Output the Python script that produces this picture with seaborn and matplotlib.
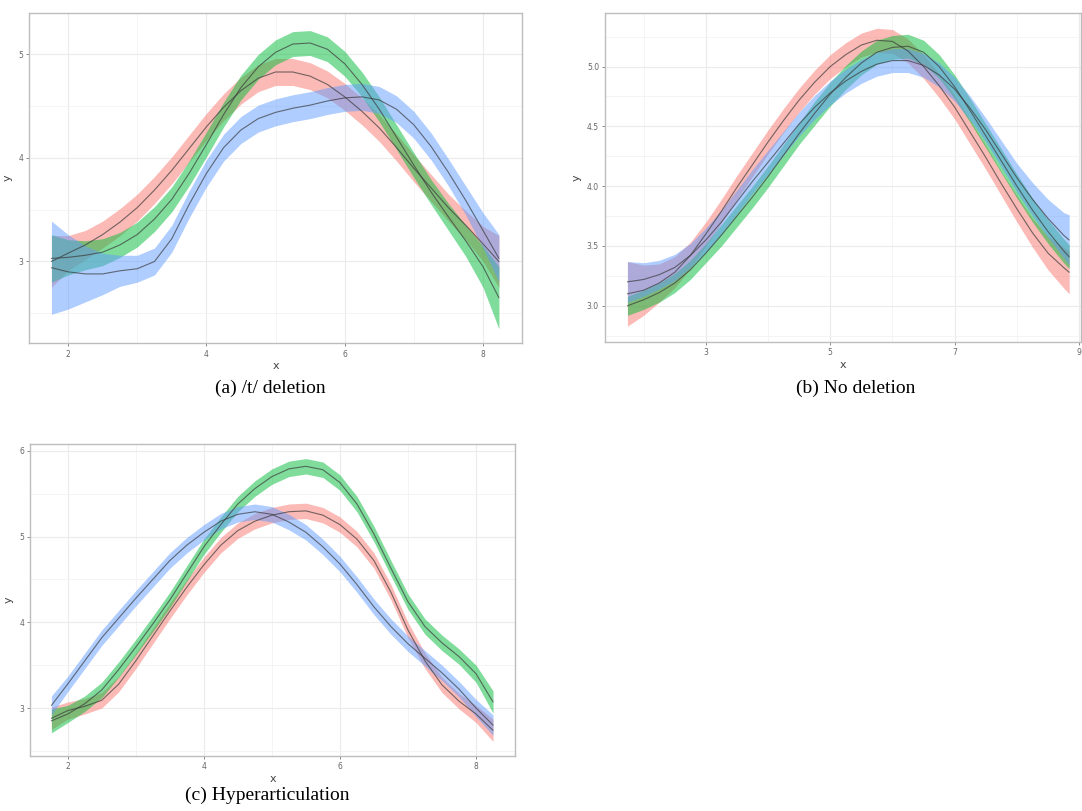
import numpy as np
import pandas as pd
import matplotlib
matplotlib.use("Agg")
import matplotlib.pyplot as plt
from matplotlib.ticker import MultipleLocator, FormatStrFormatter
import seaborn as sns

# ---------------- data ----------------
series_names = ["red", "green", "blue"]
series_colors = {"red": "#F8766D", "green": "#00BA38", "blue": "#619CFF"}

# (a) /t/ deletion
a_x = [1.76, 2.0, 2.25, 2.5, 2.75, 3.0, 3.25, 3.5, 3.75, 4.0, 4.25, 4.5, 4.75, 5.0,
       5.25, 5.5, 5.75, 6.0, 6.25, 6.5, 6.75, 7.0, 7.25, 7.5, 7.75, 8.0, 8.23]
a_red = [3.00, 3.08, 3.16, 3.26, 3.38, 3.52, 3.69, 3.88, 4.09, 4.30, 4.49, 4.65, 4.77, 4.83,
         4.83, 4.79, 4.71, 4.59, 4.45, 4.29, 4.10, 3.90, 3.71, 3.52, 3.35, 3.17, 3.00]
a_red_hw = [0.25, 0.17, 0.14, 0.13, 0.13, 0.13, 0.13, 0.13, 0.13, 0.13, 0.13, 0.13, 0.13, 0.13,
            0.13, 0.13, 0.13, 0.13, 0.13, 0.13, 0.13, 0.13, 0.13, 0.13, 0.14, 0.17, 0.25]
a_green = [3.03, 3.04, 3.06, 3.09, 3.16, 3.26, 3.41, 3.60, 3.85, 4.13, 4.42, 4.68, 4.88, 5.02,
           5.10, 5.11, 5.05, 4.91, 4.71, 4.47, 4.20, 3.93, 3.67, 3.43, 3.20, 2.95, 2.65]
a_green_hw = [0.23, 0.17, 0.14, 0.13, 0.12, 0.12, 0.12, 0.12, 0.12, 0.12, 0.12, 0.12, 0.12, 0.12,
              0.12, 0.12, 0.12, 0.12, 0.12, 0.12, 0.12, 0.12, 0.12, 0.13, 0.15, 0.20, 0.30]
a_blue = [2.94, 2.90, 2.88, 2.88, 2.91, 2.93, 3.00, 3.22, 3.55, 3.85, 4.10, 4.27, 4.38, 4.44,
          4.48, 4.51, 4.55, 4.58, 4.59, 4.56, 4.47, 4.32, 4.11, 3.86, 3.59, 3.30, 3.03]
a_blue_hw = [0.45, 0.36, 0.27, 0.20, 0.15, 0.13, 0.13, 0.13, 0.13, 0.13, 0.13, 0.13, 0.13, 0.13,
             0.13, 0.13, 0.13, 0.13, 0.13, 0.13, 0.13, 0.13, 0.13, 0.13, 0.14, 0.17, 0.23]

# (b) No deletion
b_x = [1.74, 2.0, 2.25, 2.5, 2.75, 3.0, 3.25, 3.5, 3.75, 4.0, 4.25, 4.5, 4.75, 5.0, 5.25,
       5.5, 5.75, 6.0, 6.25, 6.5, 6.75, 7.0, 7.25, 7.5, 7.75, 8.0, 8.25, 8.5, 8.75, 8.84]
b_red = [3.10, 3.13, 3.19, 3.28, 3.42, 3.60, 3.79, 3.99, 4.18, 4.37, 4.55, 4.72, 4.87, 5.00, 5.10,
         5.18, 5.22, 5.21, 5.13, 5.00, 4.84, 4.66, 4.45, 4.24, 4.02, 3.81, 3.61, 3.44, 3.32, 3.28]
b_red_hw = [0.27, 0.21, 0.16, 0.13, 0.11, 0.10, 0.10, 0.10, 0.10, 0.10, 0.10, 0.10, 0.10, 0.10, 0.10,
            0.10, 0.10, 0.10, 0.10, 0.10, 0.10, 0.10, 0.10, 0.10, 0.10, 0.11, 0.12, 0.14, 0.17, 0.18]
b_green = [3.00, 3.05, 3.11, 3.19, 3.30, 3.44, 3.59, 3.75, 3.91, 4.08, 4.26, 4.44, 4.61, 4.77, 4.91,
           5.03, 5.12, 5.16, 5.17, 5.12, 5.00, 4.83, 4.63, 4.42, 4.21, 4.00, 3.80, 3.62, 3.46, 3.41]
b_green_hw = [0.08, 0.08, 0.08, 0.08, 0.08, 0.08, 0.09, 0.09, 0.09, 0.09, 0.09, 0.09, 0.10, 0.10, 0.10,
              0.10, 0.10, 0.10, 0.10, 0.10, 0.10, 0.10, 0.10, 0.10, 0.10, 0.10, 0.10, 0.10, 0.10, 0.10]
b_blue = [3.20, 3.22, 3.26, 3.32, 3.42, 3.55, 3.70, 3.87, 4.04, 4.20, 4.36, 4.52, 4.66, 4.78, 4.88,
          4.96, 5.02, 5.05, 5.05, 5.01, 4.93, 4.81, 4.65, 4.47, 4.27, 4.07, 3.89, 3.73, 3.59, 3.55]
b_blue_hw = [0.17, 0.14, 0.12, 0.11, 0.10, 0.10, 0.10, 0.10, 0.10, 0.10, 0.10, 0.10, 0.10, 0.10, 0.10,
             0.10, 0.10, 0.10, 0.10, 0.10, 0.10, 0.10, 0.10, 0.10, 0.11, 0.12, 0.14, 0.16, 0.19, 0.21]

# (c) Hyperarticulation
c_x = [1.76, 2.0, 2.25, 2.5, 2.75, 3.0, 3.25, 3.5, 3.75, 4.0, 4.25, 4.5, 4.75, 5.0,
       5.25, 5.5, 5.75, 6.0, 6.25, 6.5, 6.75, 7.0, 7.25, 7.5, 7.75, 8.0, 8.25]
c_red = [2.88, 2.97, 3.02, 3.09, 3.28, 3.55, 3.84, 4.13, 4.41, 4.67, 4.90, 5.07, 5.18, 5.25,
         5.29, 5.30, 5.25, 5.14, 4.97, 4.72, 4.35, 3.91, 3.55, 3.27, 3.08, 2.93, 2.74]
c_red_hw = [0.13, 0.10, 0.09, 0.09, 0.09, 0.09, 0.09, 0.09, 0.09, 0.09, 0.09, 0.09, 0.09, 0.09,
            0.09, 0.09, 0.09, 0.09, 0.09, 0.09, 0.09, 0.09, 0.09, 0.09, 0.09, 0.10, 0.13]
c_green = [2.85, 2.93, 3.05, 3.21, 3.45, 3.71, 3.98, 4.26, 4.57, 4.88, 5.14, 5.38, 5.56, 5.70,
           5.79, 5.82, 5.78, 5.63, 5.38, 5.03, 4.63, 4.24, 3.95, 3.76, 3.60, 3.40, 3.07]
c_green_hw = [0.14, 0.10, 0.09, 0.09, 0.09, 0.09, 0.09, 0.09, 0.09, 0.09, 0.09, 0.09, 0.09, 0.09,
              0.09, 0.09, 0.09, 0.09, 0.09, 0.09, 0.09, 0.09, 0.09, 0.09, 0.09, 0.10, 0.13]
c_blue = [3.03, 3.28, 3.55, 3.82, 4.05, 4.28, 4.50, 4.72, 4.90, 5.05, 5.18, 5.26, 5.29, 5.26,
          5.17, 5.05, 4.88, 4.68, 4.44, 4.18, 3.95, 3.75, 3.58, 3.41, 3.22, 3.00, 2.80]
c_blue_hw = [0.11, 0.09, 0.09, 0.09, 0.09, 0.09, 0.09, 0.09, 0.09, 0.09, 0.09, 0.09, 0.09, 0.09,
             0.09, 0.09, 0.09, 0.09, 0.09, 0.09, 0.09, 0.09, 0.09, 0.09, 0.09, 0.10, 0.12]

captions = ["(a) /t/ deletion", "(b) No deletion", "(c) Hyperarticulation"]

# ---------------- style ----------------
sns.set_theme(style="white")
plt.rcParams["font.family"] = ["DejaVu Sans"]

fig = plt.figure(figsize=(10.82, 8.11), dpi=100)

panels = [
    dict(x=a_x, ys=[a_red, a_green, a_blue], hws=[a_red_hw, a_green_hw, a_blue_hw],
         rect=[0.0271, 0.5767, 0.4551, 0.4073], xlim=(1.44, 8.56), ylim=(2.21, 5.40),
         xticks=[2, 4, 6, 8], ymaj=1, ymin=0.5, yfmt="%d", cap_xy=(0.2495, 0.5216)),
    dict(x=b_x, ys=[b_red, b_green, b_blue], hws=[b_red_hw, b_green_hw, b_blue_hw],
         rect=[0.5594, 0.5787, 0.4397, 0.4056], xlim=(1.384, 9.03), ylim=(2.70, 5.45),
         xticks=[3, 5, 7, 9], ymaj=0.5, ymin=0.25, yfmt="%.1f", cap_xy=(0.791, 0.5216)),
    dict(x=c_x, ys=[c_red, c_green, c_blue], hws=[c_red_hw, c_green_hw, c_blue_hw],
         rect=[0.028, 0.0678, 0.4478, 0.3847], xlim=(1.45, 8.57), ylim=(2.44, 6.08),
         xticks=[2, 4, 6, 8], ymaj=1, ymin=0.5, yfmt="%d", cap_xy=(0.2467, 0.019)),
]

for p, cap in zip(panels, captions):
    ax = fig.add_axes(p["rect"])
    ax.set_facecolor("white")
    rows = []
    for name, yv in zip(series_names, p["ys"]):
        for xv, v in zip(p["x"], yv):
            rows.append({"x": xv, "y": v, "series": name})
    df = pd.DataFrame(rows)

    # confidence bands
    for name, yv, hw in zip(series_names, p["ys"], p["hws"]):
        yv = np.array(yv)
        hw = np.array(hw)
        ax.fill_between(p["x"], yv - hw, yv + hw, color=series_colors[name],
                        alpha=0.5, linewidth=0, zorder=2)
    # smooth lines
    sns.lineplot(data=df, x="x", y="y", units="series", estimator=None,
                 color="#3a3a3a", alpha=0.7, linewidth=0.8, ax=ax, legend=False, zorder=3)

    ax.set_xlim(*p["xlim"])
    ax.set_ylim(*p["ylim"])
    ax.set_xticks(p["xticks"])
    ax.xaxis.set_minor_locator(MultipleLocator(1))
    ax.yaxis.set_major_locator(MultipleLocator(p["ymaj"]))
    ax.yaxis.set_minor_locator(MultipleLocator(p["ymin"]))
    ax.yaxis.set_major_formatter(FormatStrFormatter(p["yfmt"]))

    ax.grid(True, which="major", color="#EBEBEB", linewidth=0.8, zorder=0)
    ax.grid(True, which="minor", color="#F2F2F2", linewidth=0.6, zorder=0)
    ax.set_axisbelow(True)
    for s in ax.spines.values():
        s.set_color("#BDBDBD")
        s.set_linewidth(1.0)
    ax.tick_params(which="major", length=2.5, width=0.6, color="#777777",
                   labelsize=5.5, labelcolor="#666666", pad=2, direction="out",
                   bottom=True, left=True)
    ax.tick_params(which="minor", length=0)
    ax.set_xlabel("x", fontsize=8, color="#444444", labelpad=2)
    ax.set_ylabel("y", fontsize=8, color="#444444", labelpad=4)

    fig.text(p["cap_xy"][0], p["cap_xy"][1], cap, ha="center", va="center",
             fontsize=14, family="Liberation Serif", color="black")

fig.savefig("out.png", dpi=100)
